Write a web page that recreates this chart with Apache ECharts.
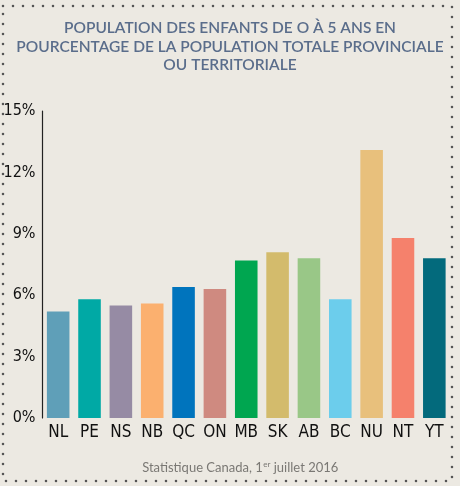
<!DOCTYPE html>
<html>
<head>
<meta charset="utf-8">
<script src="https://cdn.jsdelivr.net/npm/echarts@6/dist/echarts.min.js"></script>
<style>
  html, body { margin: 0; padding: 0; background: #ece9e2; }
  #chart { width: 460px; height: 486px; }
</style>
</head>
<body>
<div id="chart"></div>
<script>
// provinces / territories
const provinces = ["NL", "PE", "NS", "NB", "QC", "ON", "MB", "SK", "AB", "BC", "NU", "NT", "YT"];
const provinceLabels = ["NL", "PE", "NS", "NB", "QC", "ON", "MB", "SK", "AB", "BC", "NU", "NT", "YT"];
// % of population aged 0-5
const shares = [5.2, 5.8, 5.5, 5.6, 6.4, 6.3, 7.7, 8.1, 7.8, 5.8, 13.1, 8.8, 7.8];
const barColors = ["#5f9fb8", "#00a9a5", "#968ba4", "#fbb06f", "#0074bd", "#cf8a80", "#00a650",
  "#d3bb6c", "#99c787", "#6ccdec", "#e8c07c", "#f5816c", "#036a7c"];
const yTicks = [0, 3, 6, 9, 12, 15];

const titleLines = [
  "POPULATION DES ENFANTS DE O À 5 ANS EN",
  "POURCENTAGE DE LA POPULATION TOTALE PROVINCIALE",
  "OU TERRITORIALE"
];
const sourceParts = ["Statistique Canada, 1", "er", " juillet 2016"];

const chart = echarts.init(document.getElementById("chart"));
const handFont = "'DejaVu Sans Condensed', 'Liberation Sans Narrow', sans-serif";
const textFont = "Lato, 'Noto Sans', sans-serif";

// measure source line pieces so the superscript sits right after the "1"
const ctx = document.createElement("canvas").getContext("2d");
const mainFont = "13px " + textFont;
const supFont = "8px " + textFont;
ctx.font = mainFont;
const w0 = ctx.measureText(sourceParts[0]).width;
const w2 = ctx.measureText(sourceParts[2]).width;
ctx.font = supFont;
const w1 = ctx.measureText(sourceParts[1]).width;
const srcX = 240 - (w0 + w1 + w2) / 2;

chart.setOption({
  backgroundColor: "#ece9e2",
  animation: false,
  title: {
    text: titleLines.join("\n"),
    left: "center",
    top: 14,
    textStyle: {
      fontFamily: textFont,
      fontWeight: 600,
      fontSize: 15.5,
      lineHeight: 18.5,
      color: "#5a6d8b"
    }
  },
  graphic: [
    {
      type: "rect",
      shape: { x: 3, y: 6, width: 449, height: 475 },
      style: { fill: null, stroke: "#555", lineWidth: 2.6, lineDash: [0, 10], lineCap: "round" },
      silent: true
    },
    {
      type: "text",
      x: srcX,
      y: 461,
      style: { text: sourceParts[0], font: mainFont, fill: "#7a7874" }
    },
    {
      type: "text",
      x: srcX + w0 + 0.5,
      y: 460,
      style: { text: sourceParts[1], font: supFont, fill: "#7a7874" }
    },
    {
      type: "text",
      x: srcX + w0 + w1 + 0.5,
      y: 461,
      style: { text: sourceParts[2], font: mainFont, fill: "#7a7874" }
    }
  ],
  grid: { left: 42.5, right: 10, top: 111, bottom: 68 },
  xAxis: {
    type: "category",
    data: provinces,
    axisLine: { show: false },
    axisTick: { show: false },
    axisLabel: {
      interval: 0,
      margin: 6,
      fontFamily: handFont,
      fontSize: 17,
      color: "#111",
      formatter: (v, i) => provinceLabels[i]
    }
  },
  yAxis: {
    type: "value",
    min: 0,
    max: 15,
    interval: 3,
    splitLine: { show: false },
    axisLine: { show: true, lineStyle: { color: "#222", width: 1.2 } },
    axisTick: { show: false },
    axisLabel: {
      margin: 7,
      fontFamily: handFont,
      fontSize: 16,
      color: "#111",
      formatter: v => (yTicks.includes(v) ? v + "%" : "")
    }
  },
  series: [{
    type: "bar",
    data: shares.map((v, i) => ({ value: v, itemStyle: { color: barColors[i] } })),
    barCategoryGap: "28%"
  }]
});
</script>
</body>
</html>
